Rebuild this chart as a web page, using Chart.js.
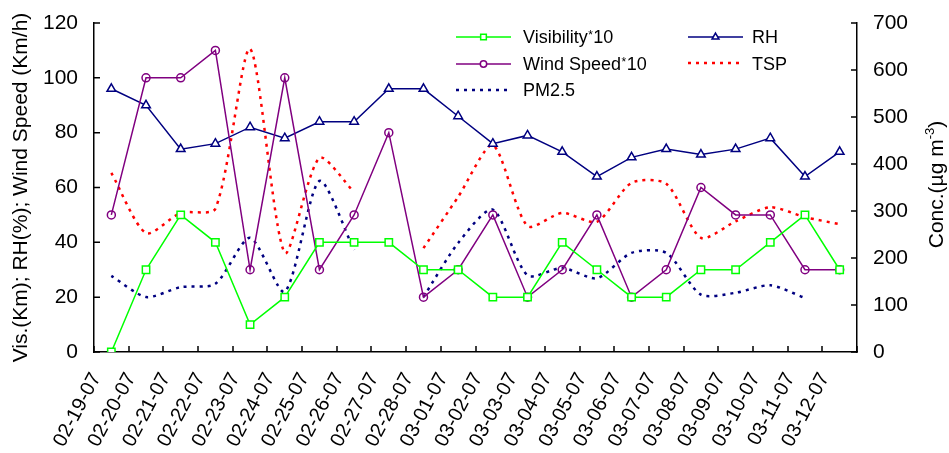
<!DOCTYPE html>
<html><head><meta charset="utf-8">
<script src="https://cdn.jsdelivr.net/npm/chart.js@4.4.1/dist/chart.umd.min.js"></script>
<style>html,body{margin:0;padding:0;background:#fff;}#wrap{width:949px;height:453px;position:relative;}</style>
</head><body><div id="wrap"><canvas id="c"></canvas></div>
<script>
const categories = ['02-19-07','02-20-07','02-21-07','02-22-07','02-23-07','02-24-07','02-25-07','02-26-07','02-27-07','02-28-07','03-01-07','03-02-07','03-03-07','03-04-07','03-05-07','03-06-07','03-07-07','03-08-07','03-09-07','03-10-07','03-11-07','03-12-07'];
const visibility10 = [0,30,50,40,10,20,40,40,40,30,30,20,20,40,30,20,20,30,30,40,50,30];
const windSpeed10 = [50,100,100,110,30,100,30,50,80,20,30,50,20,30,50,20,30,60,50,50,30,30];
const rh = [96,90,74,76,82,78,84,84,96,96,86,76,79,73,64,71,74,72,74,78,64,73];
const tsp = [381,253,296,305,645,211,413,340,null,221,330,440,268,296,277,360,358,243,278,308,287,272];
const pm25 = [162,117,138,145,243,128,364,217,null,117,232,303,163,179,157,211,211,122,126,142,115,null];
const leftTickValues = [0,20,40,60,80,100,120];
const rightTickValues = [0,100,200,300,400,500,600,700];

const FONT = "Arial, 'Liberation Sans', sans-serif";
const GREEN='#00FF00', PURPLE='#800080', NAVY='#000080', RED='#FF0000';

const datasets = [
  {label:'Visibility*10', data:visibility10, yAxisID:'y', borderColor:GREEN, backgroundColor:'#fff', borderWidth:1.5,
   pointStyle:'rect', pointRadius:5.2, pointBorderWidth:1.5, pointBackgroundColor:'#fff', pointBorderColor:GREEN, tension:0},
  {label:'Wind Speed*10', data:windSpeed10, yAxisID:'y', borderColor:PURPLE, backgroundColor:'#fff', borderWidth:1.5,
   pointStyle:'circle', pointRadius:4, pointBorderWidth:1.5, pointBackgroundColor:'rgba(255,255,255,0)', pointBorderColor:PURPLE, tension:0},
  {label:'RH', data:rh, yAxisID:'y', borderColor:NAVY, backgroundColor:'#fff', borderWidth:1.5,
   pointStyle:'triangle', pointRadius:5, pointBorderWidth:1.5, pointBackgroundColor:'#fff', pointBorderColor:NAVY, tension:0},
  {label:'TSP', data:tsp, yAxisID:'y1', borderColor:RED, borderWidth:2.5, borderDash:[3,5], pointRadius:0, tension:0.25, spanGaps:false},
  {label:'PM2.5', data:pm25, yAxisID:'y1', borderColor:NAVY, borderWidth:2.5, borderDash:[3,5], pointRadius:0, tension:0.25, spanGaps:false}
];

const extras = {
  id:'extras',
  afterDraw(chart){
    const ctx = chart.ctx, a = chart.chartArea;
    const sx = chart.scales.x, sy = chart.scales.y, sy1 = chart.scales.y1;
    ctx.save();
    // inward tick marks
    ctx.strokeStyle = '#000'; ctx.lineWidth = 1.5; ctx.setLineDash([]);
    ctx.beginPath();
    for (let i = 0; i <= categories.length; i++) {
      const px = Math.round(sx.getPixelForValue(i - 0.5));
      ctx.moveTo(px, a.bottom); ctx.lineTo(px, a.bottom - 6);
    }
    leftTickValues.forEach(v => { const py = sy.getPixelForValue(v); ctx.moveTo(a.left, py); ctx.lineTo(a.left + 6, py); });
    rightTickValues.forEach(v => { const py = sy1.getPixelForValue(v); ctx.moveTo(a.right, py); ctx.lineTo(a.right - 6, py); });
    ctx.stroke();

    // legend
    const ds = chart.data.datasets;
    const items = [
      {d:ds[0], x:456, y:37, tx:523, ty:43, main:'Visibility', sup:'*', tail:'10'},
      {d:ds[1], x:456, y:64, tx:523, ty:70, main:'Wind Speed', sup:'*', tail:'10'},
      {d:ds[4], x:456, y:90, tx:523, ty:96, main:'PM2.5'},
      {d:ds[2], x:688, y:37, tx:752, ty:43, main:'RH'},
      {d:ds[3], x:688, y:63, tx:752, ty:70, main:'TSP'}
    ];
    items.forEach(it => {
      const d = it.d;
      ctx.save();
      ctx.strokeStyle = d.borderColor; ctx.lineWidth = d.borderDash ? 2.5 : 1.5;
      ctx.setLineDash(d.borderDash || []);
      ctx.beginPath(); ctx.moveTo(it.x, it.y); ctx.lineTo(it.x + 55, it.y); ctx.stroke();
      ctx.setLineDash([]);
      if (d.pointRadius) {
        ctx.strokeStyle = d.pointBorderColor; ctx.fillStyle = '#fff'; ctx.lineWidth = 1.5;
        const r = d.pointStyle === 'circle' ? 3.2 : 4;
        Chart.helpers.drawPoint(ctx, {pointStyle:d.pointStyle, radius:r, rotation:0, borderWidth:1.5}, it.x + 27.5, it.y);
      }
      ctx.fillStyle = '#000'; ctx.textBaseline = 'alphabetic'; ctx.textAlign = 'left';
      ctx.font = '18px ' + FONT;
      ctx.fillText(it.main, it.tx, it.ty);
      let cx = it.tx + ctx.measureText(it.main).width;
      if (it.sup) {
        ctx.font = '12px ' + FONT;
        ctx.fillText(it.sup, cx + 0.5, it.ty - 4);
        cx += ctx.measureText(it.sup).width + 1;
        ctx.font = '18px ' + FONT;
        ctx.fillText(it.tail, cx, it.ty);
      }
      ctx.restore();
    });

    // right axis title, reading bottom-to-top
    const cy = (a.top + a.bottom) / 2 - 3;
    ctx.save();
    ctx.translate(937, cy);
    ctx.rotate(-Math.PI / 2);
    ctx.fillStyle = '#000'; ctx.textBaseline = 'middle'; ctx.textAlign = 'left';
    const p1 = 'Conc.(\u00B5g m', p2 = '-3', p3 = ')';
    ctx.font = '21px ' + FONT; const w1 = ctx.measureText(p1).width, w3 = ctx.measureText(p3).width;
    ctx.font = '13px ' + FONT; const w2 = ctx.measureText(p2).width;
    let x0 = -(w1 + w2 + w3) / 2;
    ctx.font = '21px ' + FONT; ctx.fillText(p1, x0, 0); x0 += w1;
    ctx.font = '13px ' + FONT; ctx.fillText(p2, x0, -7); x0 += w2;
    ctx.font = '21px ' + FONT; ctx.fillText(p3, x0, 0);
    ctx.restore();
    ctx.restore();
  }
};

function fixVertical(width){
  return function(s){ s.width = width; s.paddingTop = 0; s.paddingBottom = 0; };
}

new Chart(document.getElementById('c'), {
  type:'line',
  data:{labels:categories, datasets},
  options:{
    responsive:true, maintainAspectRatio:false, animation:false,
    layout:{padding:{top:23, left:0, right:0, bottom:0}},
    plugins:{legend:{display:false}, tooltip:{enabled:false}},
    scales:{
      x:{type:'category', offset:true,
         grid:{display:false, drawTicks:false, offset:true},
         border:{display:true, color:'#000', width:1.5},
         ticks:{color:'#000', font:{family:FONT, size:20}, minRotation:62, maxRotation:62, autoSkip:false, padding:17, labelOffset:-15},
         afterFit(s){ s.height = 101; s.paddingLeft = 0; s.paddingRight = 0; }},
      y:{position:'left', min:0, max:120,
         afterBuildTicks(s){ s.ticks = leftTickValues.map(v => ({value:v})); },
         grid:{display:false, drawTicks:false},
         border:{display:true, color:'#000', width:1.5},
         ticks:{color:'#000', font:{family:FONT, size:21}, padding:16},
         title:{display:true, text:'Vis.(Km); RH(%); Wind Speed (Km/h)', color:'#000', font:{family:FONT, size:21}, padding:{top:9, bottom:0}},
         afterFit: fixVertical(94)},
      y1:{position:'right', min:0, max:700,
         afterBuildTicks(s){ s.ticks = rightTickValues.map(v => ({value:v})); },
         grid:{display:false, drawTicks:false},
         border:{display:true, color:'#000', width:1.5},
         ticks:{color:'#000', font:{family:FONT, size:21}, padding:16},
         afterFit: fixVertical(92)}
    }
  },
  plugins:[extras]
});
</script></body></html>
